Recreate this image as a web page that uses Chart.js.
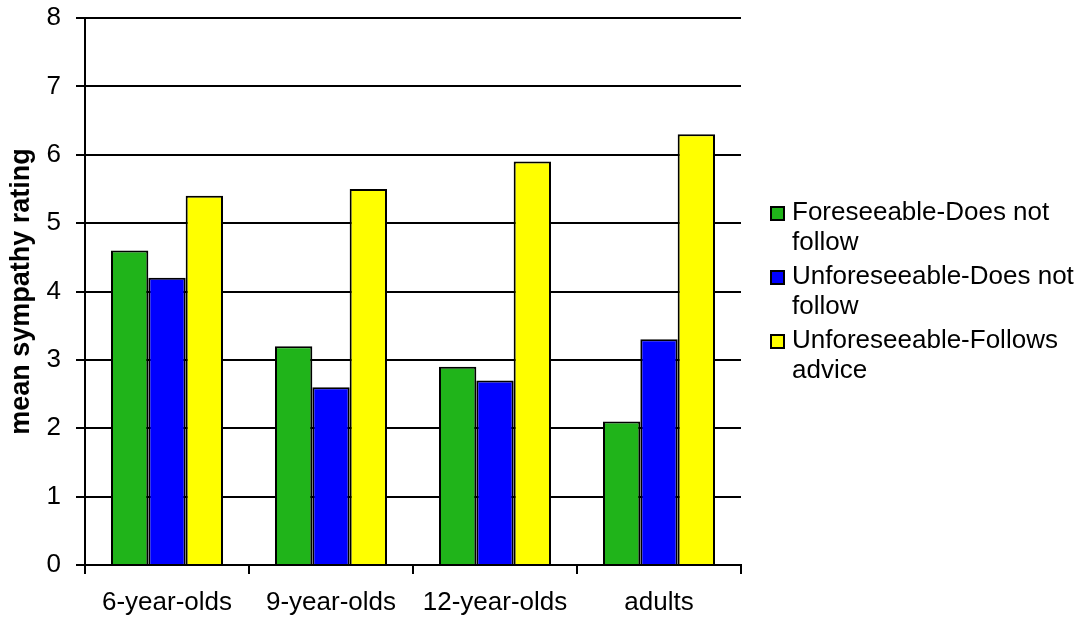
<!DOCTYPE html>
<html>
<head>
<meta charset="utf-8">
<script src="https://cdn.jsdelivr.net/npm/chart.js@4/dist/chart.umd.min.js"></script>
<style>
  html, body { margin: 0; padding: 0; background: #ffffff; }
  #wrap { width: 1087px; height: 621px; position: relative; }
</style>
</head>
<body>
<div id="wrap"><canvas id="chart"></canvas></div>
<script>
// Age groups along the x axis
const categories = ['6-year-olds', '9-year-olds', '12-year-olds', 'adults'];

// Mean sympathy rating per condition
const foreseeableDoesNotFollow = [4.6, 3.2, 2.9, 2.1];
const unforeseeableDoesNotFollow = [4.2, 2.6, 2.7, 3.3];
const unforeseeableFollowsAdvice = [5.4, 5.5, 5.9, 6.3];

// Legend text, wrapped onto two lines each
const seriesLabels = [
  ['Foreseeable-Does not', 'follow'],
  ['Unforeseeable-Does not', 'follow'],
  ['Unforeseeable-Follows', 'advice']
];
const seriesColors = ['#20b41a', '#0000ff', '#ffff00'];

// Value axis range
const yMin = 0;
const yMax = 8;
const yStep = 1;

const FONT = "'Liberation Sans', Arial, Helvetica, sans-serif";

// Legend drawn to the right of the plot, two text lines per entry
const sideLegend = {
  id: 'sideLegend',
  afterDraw(chart) {
    const ctx = chart.ctx;
    const area = chart.chartArea;
    const boxX = 771, box = 13, textX = 792;
    const lineH = 30, itemGap = 4;
    const itemH = lineH * 2 + itemGap;
    const total = itemH * seriesLabels.length - itemGap;
    let top = (area.top + area.bottom) / 2 - total / 2;
    ctx.save();
    ctx.font = '26px ' + FONT;
    ctx.textBaseline = 'middle';
    ctx.textAlign = 'left';
    chart.data.datasets.forEach((ds, i) => {
      const y1 = top + lineH / 2;
      ctx.fillStyle = ds.backgroundColor;
      ctx.fillRect(boxX, y1 - box / 2 + 1, box, box);
      ctx.strokeStyle = '#000';
      ctx.lineWidth = 2;
      ctx.strokeRect(boxX, y1 - box / 2 + 1, box, box);
      ctx.fillStyle = '#000';
      seriesLabels[i].forEach((line, k) => {
        ctx.fillText(line, textX, y1 + k * lineH);
      });
      top += itemH;
    });
    ctx.restore();
  }
};

const makeSet = (label, data, color) => ({
  label: label.join(' '),
  data: data,
  backgroundColor: color,
  borderColor: '#000000',
  borderWidth: 2,
  categoryPercentage: 0.683,
  barPercentage: 1.0
});

new Chart(document.getElementById('chart'), {
  type: 'bar',
  data: {
    labels: categories,
    datasets: [
      makeSet(seriesLabels[0], foreseeableDoesNotFollow, seriesColors[0]),
      makeSet(seriesLabels[1], unforeseeableDoesNotFollow, seriesColors[1]),
      makeSet(seriesLabels[2], unforeseeableFollowsAdvice, seriesColors[2])
    ]
  },
  options: {
    responsive: true,
    maintainAspectRatio: false,
    animation: false,
    devicePixelRatio: 1,
    layout: { padding: { top: 18, right: 346, left: 0, bottom: 0 } },
    plugins: {
      legend: { display: false },
      tooltip: { enabled: false }
    },
    scales: {
      x: {
        afterFit(scale) { scale.height = 56; },
        grid: {
          display: true,
          drawOnChartArea: false,
          drawTicks: true,
          tickLength: 9,
          offset: true,
          color: '#000000',
          lineWidth: 2
        },
        border: { display: true, color: '#000000', width: 2 },
        ticks: {
          color: '#000000',
          font: { family: FONT, size: 26 },
          padding: 13,
          maxRotation: 0
        }
      },
      y: {
        min: yMin,
        max: yMax,
        afterFit(scale) {
          scale.width = 85;
          scale.paddingTop = 0;
          scale.paddingBottom = 0;
        },
        grid: {
          display: true,
          drawOnChartArea: true,
          drawTicks: true,
          tickLength: 9,
          color: '#000000',
          lineWidth: 2
        },
        border: { display: true, color: '#000000', width: 2 },
        ticks: {
          stepSize: yStep,
          color: '#000000',
          font: { family: FONT, size: 26 },
          padding: 15
        },
        title: {
          display: true,
          text: 'mean sympathy rating',
          color: '#000000',
          font: { family: FONT, size: 27, weight: 'bold' },
          padding: { top: 5, bottom: 0 }
        }
      }
    }
  },
  plugins: [sideLegend]
});
</script>
</body>
</html>
